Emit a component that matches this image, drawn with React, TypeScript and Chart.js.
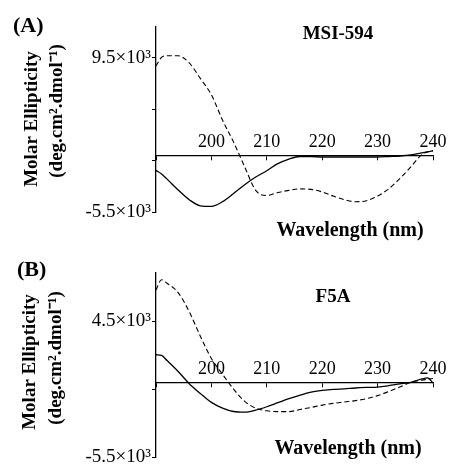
import React, { useEffect, useRef } from 'react';
import { Chart, registerables } from 'chart.js';

Chart.register(...registerables);

// Wavelength (nm) sampling shared by all curves
const wavelengths = [190, 191, 192, 194, 196, 198, 200, 202, 204, 206, 208, 210, 212, 214, 216, 218, 220, 222, 224, 226, 228, 230, 232, 234, 236, 238, 239, 240];

// Panel A: MSI-594 (values in units of 10^3 deg.cm2.dmol-1)
const msiSolid = [-1.45, -1.8, -2.3, -3.35, -4.3, -4.9, -4.95, -4.5, -3.7, -2.85, -2.1, -1.48, -0.8, -0.35, -0.1, -0.1, -0.15, -0.15, -0.15, -0.15, -0.15, -0.15, -0.1, -0.05, 0.05, 0.25, 0.35, 0.45];
const msiDashed = [8.7, 9.55, 9.7, 9.7, 9.0, 7.5, 5.9, 3.45, 1.3, -1.1, -3.4, -3.9, -3.6, -3.4, -3.25, -3.3, -3.55, -3.95, -4.3, -4.5, -4.4, -3.95, -3.25, -2.25, -1.1, 0.1, 0.35, 0.47];

// Panel B: F5A
const f5aSolid = [2.03, 1.98, 1.6, 0.8, -0.1, -0.82, -1.48, -1.9, -2.15, -2.2, -2.05, -1.8, -1.5, -1.2, -0.95, -0.72, -0.6, -0.52, -0.48, -0.42, -0.38, -0.35, -0.25, -0.12, 0.0, 0.25, 0.32, -0.05];
const f5aDashed = [6.8, 7.55, 7.3, 6.6, 5.2, 3.4, 1.75, 0.6, -0.5, -1.4, -1.9, -2.1, -2.16, -2.16, -2.0, -1.85, -1.68, -1.55, -1.45, -1.35, -1.2, -0.98, -0.68, -0.35, 0.0, 0.16, 0.22, 0.28];

// Axis ticks
const xTickValues = [190, 200, 210, 220, 230, 240];
const xTickLabels = ['', '200', '210', '220', '230', '240'];
const yTicksA = [-5.5, -0.5, 4.5, 9.5];
const yLabelsA = ['-5.5×10³', '', '', '9.5×10³'];
const yTicksB = [-5.5, -0.5, 4.5];
const yLabelsB = ['-5.5×10³', '', '4.5×10³'];
const yRangeA = [-5.5, 12.5];
const yRangeB = [-5.5, 8.05];

const titles = { a: 'MSI-594', b: 'F5A' };
const panelLabels = { a: '(A)', b: '(B)' };
const xTitle = 'Wavelength (nm)';
const yTitle = ['Molar Ellipticity', '(deg.cm².dmol⁻¹)'];

const SERIF = '"Liberation Serif", "Times New Roman", serif';

type TextItem = { text: string; x: number; y: number; font: string; align: CanvasTextAlign; rotate?: boolean };

const textPlugin = {
  id: 'panelTexts',
  afterDraw(chart: any) {
    const items: TextItem[] = chart.options.plugins.panelTexts?.items || [];
    const ctx = chart.ctx;
    ctx.save();
    ctx.fillStyle = '#000';
    ctx.textBaseline = 'alphabetic';
    for (const it of items) {
      ctx.save();
      ctx.font = it.font;
      ctx.textAlign = it.align;
      ctx.translate(it.x, it.y);
      if (it.rotate) ctx.rotate(-Math.PI / 2);
      ctx.fillText(it.text, 0, 0);
      ctx.restore();
    }
    ctx.restore();
  },
};

type PanelProps = {
  top: number;
  height: number;
  padTop: number;
  padBottom: number;
  yRange: number[];
  yTicks: number[];
  yLabels: string[];
  solid: number[];
  dashed: number[];
  texts: TextItem[];
};

function Panel(p: PanelProps) {
  const ref = useRef<HTMLCanvasElement>(null);
  useEffect(() => {
    if (!ref.current) return;
    const chart = new Chart(ref.current, {
      type: 'line',
      data: {
        datasets: [
          {
            data: wavelengths.map((x, i) => ({ x, y: p.dashed[i] })),
            borderColor: '#000',
            borderWidth: 1.1,
            borderDash: [5, 3],
            pointRadius: 0,
            cubicInterpolationMode: 'monotone',
            fill: false,
          },
          {
            data: wavelengths.map((x, i) => ({ x, y: p.solid[i] })),
            borderColor: '#000',
            borderWidth: 1.3,
            pointRadius: 0,
            cubicInterpolationMode: 'monotone',
            fill: false,
          },
        ],
      },
      plugins: [textPlugin],
      options: {
        animation: false,
        responsive: false,
        events: [],
        layout: { autoPadding: false, padding: { left: 0, right: 16, top: p.padTop, bottom: p.padBottom } } as any,
        plugins: {
          legend: { display: false },
          tooltip: { enabled: false },
          panelTexts: { items: p.texts },
        } as any,
        scales: {
          x: {
            type: 'linear',
            position: { y: 0 } as any,
            min: 190,
            max: 240,
            afterBuildTicks: (scale: any) => {
              scale.ticks = xTickValues.map((v) => ({ value: v }));
            },
            afterFit: (scale: any) => {
              scale.paddingLeft = 0;
              scale.paddingRight = 0;
              scale.paddingTop = 0;
              scale.paddingBottom = 0;
            },
            ticks: {
              color: '#000',
              font: { family: SERIF, size: 18 },
              padding: -28,
              maxRotation: 0,
              autoSkip: false,
              callback: (v: any) => {
                const i = xTickValues.indexOf(Number(v));
                return i >= 0 ? xTickLabels[i] : '';
              },
            },
            grid: { drawOnChartArea: false, drawTicks: true, tickLength: 4, color: '#000', lineWidth: 1 },
            border: { display: true, color: '#000', width: 1.3 },
          },
          y: {
            type: 'linear',
            position: 'left',
            min: p.yRange[0],
            max: p.yRange[1],
            afterBuildTicks: (scale: any) => {
              scale.ticks = p.yTicks.map((v) => ({ value: v }));
            },
            afterFit: (scale: any) => {
              scale.width = 156;
              scale.paddingTop = 0;
              scale.paddingBottom = 0;
              scale.paddingLeft = 0;
              scale.paddingRight = 0;
            },
            ticks: {
              color: '#000',
              font: { family: SERIF, size: 19 },
              padding: 1,
              autoSkip: false,
              callback: (v: any) => {
                const i = p.yTicks.indexOf(Number(v));
                return i >= 0 ? p.yLabels[i] : '';
              },
            },
            grid: { drawOnChartArea: false, drawTicks: true, tickLength: 4, color: '#000', lineWidth: 1 },
            border: { display: true, color: '#000', width: 1.3 },
          },
        },
      },
    });
    return () => chart.destroy();
  }, []);
  return (
    <canvas
      ref={ref}
      width={449}
      height={p.height}
      style={{ position: 'absolute', left: 0, top: p.top, width: 449, height: p.height, display: 'block' }}
    />
  );
}

export default function App() {
  const bold19 = `bold 19px ${SERIF}`;
  const bold20 = `bold 20px ${SERIF}`;
  const bold22 = `bold 22px ${SERIF}`;
  const textsA: TextItem[] = [
    { text: panelLabels.a, x: 13, y: 32, font: bold22, align: 'left' },
    { text: titles.a, x: 338, y: 39, font: bold19, align: 'center' },
    { text: xTitle, x: 350, y: 236, font: bold20, align: 'center' },
    { text: yTitle[0], x: 37, y: 119, font: bold19, align: 'center', rotate: true },
    { text: yTitle[1], x: 62, y: 111, font: bold19, align: 'center', rotate: true },
  ];
  const textsB: TextItem[] = [
    { text: panelLabels.b, x: 17, y: 31, font: bold22, align: 'left' },
    { text: titles.b, x: 333, y: 57, font: bold19, align: 'center' },
    { text: xTitle, x: 348, y: 209, font: bold20, align: 'center' },
    { text: yTitle[0], x: 35, y: 117, font: bold19, align: 'center', rotate: true },
    { text: yTitle[1], x: 61, y: 113, font: bold19, align: 'center', rotate: true },
  ];
  return (
    <div style={{ position: 'absolute', left: 0, top: 0, width: 449, height: 465, background: '#fff', overflow: 'hidden' }}>
      <Panel
        top={0}
        height={245}
        padTop={27}
        padBottom={33}
        yRange={yRangeA}
        yTicks={yTicksA}
        yLabels={yLabelsA}
        solid={msiSolid}
        dashed={msiDashed}
        texts={textsA}
      />
      <Panel
        top={245}
        height={220}
        padTop={28}
        padBottom={8}
        yRange={yRangeB}
        yTicks={yTicksB}
        yLabels={yLabelsB}
        solid={f5aSolid}
        dashed={f5aDashed}
        texts={textsB}
      />
    </div>
  );
}
